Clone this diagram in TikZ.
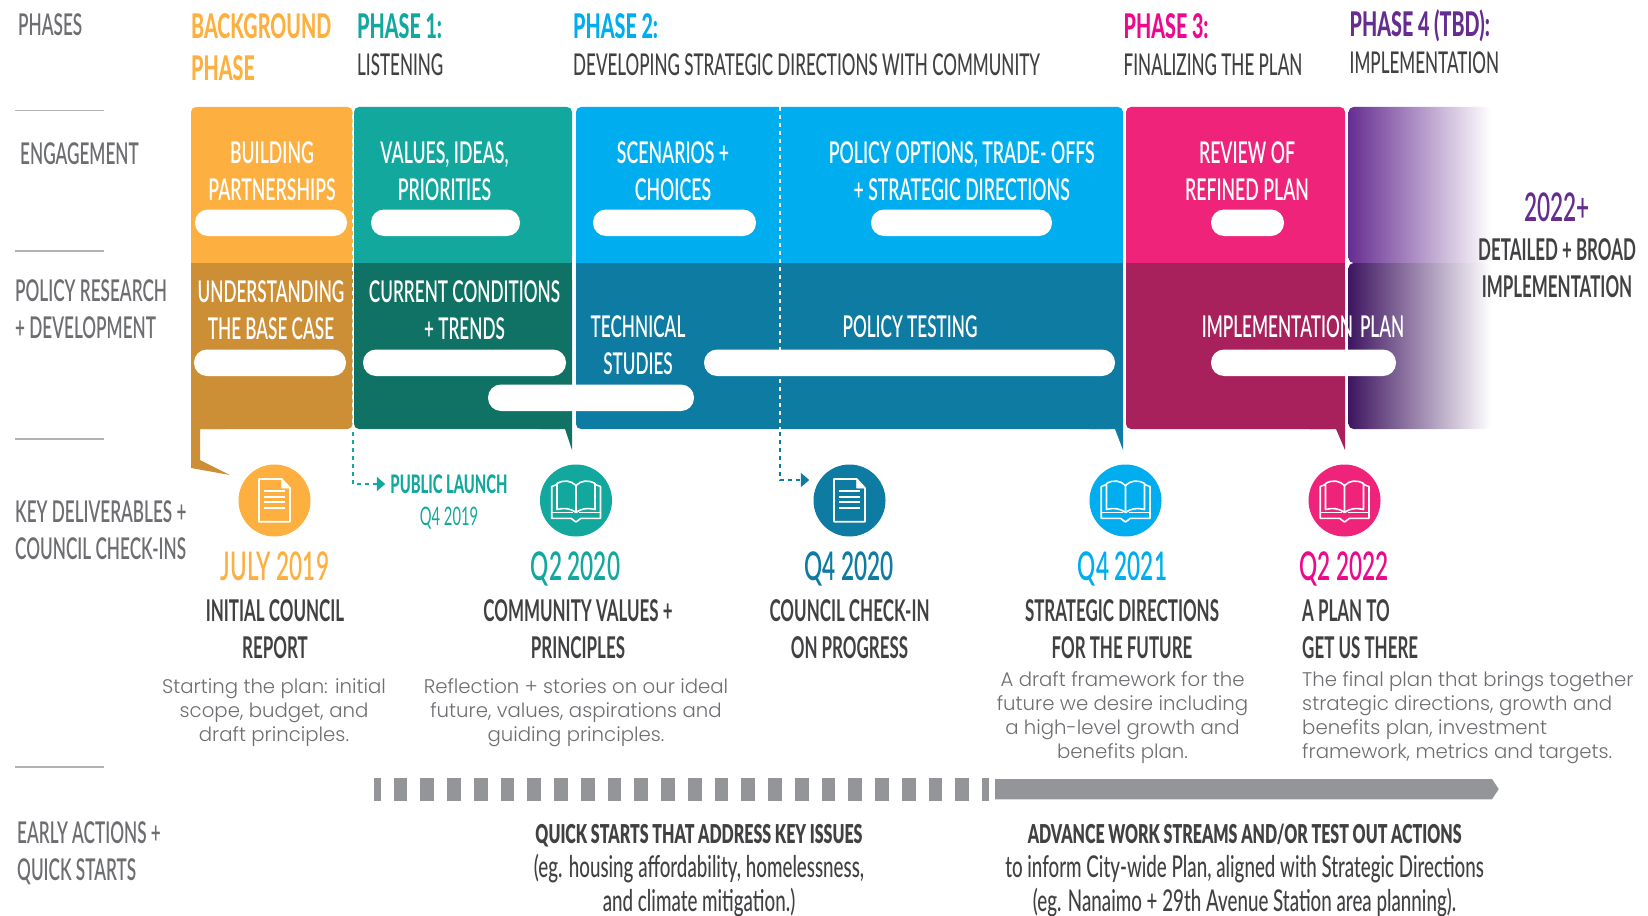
\documentclass[tikz,border=0pt]{standalone}
\usepackage{fontspec}
\usetikzlibrary{arrows.meta,calc,shadings}
\setmainfont{Lato}
\newfontfamily\condf[FakeStretch=0.572]{Lato Semibold}
\newfontfamily\condg[FakeStretch=0.59]{Lato Semibold}
\newfontfamily\condr[FakeStretch=0.568]{Lato Medium}
\newfontfamily\condl[FakeStretch=0.578]{Lato}
\newfontfamily\condt[FakeStretch=0.625]{Lato Medium}
\newfontfamily\condm[FakeStretch=0.565]{Lato Bold}
\newfontfamily\condb[FakeStretch=0.58]{Lato Heavy}
\newfontfamily\condq[FakeStretch=0.615]{Lato Black}
\newfontfamily\lightf{Poppins Light}
\definecolor{corange}{HTML}{FDB040}
\definecolor{corangeD}{HTML}{CD8F36}
\definecolor{cteal}{HTML}{13A89E}
\definecolor{ctealD}{HTML}{0F7264}
\definecolor{cblue}{HTML}{00AEEF}
\definecolor{cblueD}{HTML}{0E7BA3}
\definecolor{cpink}{HTML}{EE2379}
\definecolor{cpinkD}{HTML}{A8215C}
\definecolor{cmag}{HTML}{EC0A8C}
\definecolor{cpurple}{HTML}{662D91}
\definecolor{cpurpleD}{HTML}{3E1560}
\definecolor{cgrey}{HTML}{6D6E71}
\definecolor{cdark}{HTML}{414042}
\definecolor{cbar}{HTML}{939598}
\begin{document}
\begin{tikzpicture}[x=1pt,y=-1pt,
  cond/.style={inner sep=0pt,align=center,yshift=-1pt,font=\condf\fontsize{30}{37}\selectfont},
  lefty/.style={cond,align=left,anchor=west},
  sidelab/.style={lefty,text=cgrey},
  head/.style={lefty,font=\condb\fontsize{34}{42}\selectfont},
  sub/.style={lefty,text=cdark,font=\condr\fontsize{30}{37}\selectfont},
  inbox/.style={cond,text=white},
  intop/.style={cond,text=white,font=\condg\fontsize{30}{37}\selectfont},
  pill/.style={fill=white,rounded corners=13pt},
  date/.style={cond,anchor=base,yshift=1pt,font=\condf\fontsize{39.5}{37}\selectfont},
  ttl/.style={cond,text=cdark,font=\condm\fontsize{30}{37}\selectfont},
  qbold/.style={cond,text=cdark,font=\condq\fontsize{26}{35}\selectfont},
  qtext/.style={cond,text=cdark,font=\condt\fontsize{30}{34}\selectfont},
  body/.style={inner sep=0pt,align=center,text=cgrey,yshift=-2.5pt,font=\lightf\fontsize{19.7}{24}\selectfont},
  dot/.style={circle,minimum size=72pt,inner sep=0pt},
  seplin/.style={draw=black!30,line width=1.6pt},
  wdash/.style={white,line width=1.8pt,dash pattern=on 4pt off 4pt},
  tdash/.style={line width=2.2pt,dash pattern=on 4pt off 4pt},
  icn/.style={white,line width=1.6pt,line join=round}
]
\useasboundingbox (0,0) rectangle (1648,915);
% separators
\foreach \yy in {110.7,251,439,767}{\draw[seplin] (15,\yy) -- (104,\yy);}
% boxes
\fill[corange,rounded corners=5pt] (191,263) -- (191,107) -- (352.6,107) -- (352.6,263) -- cycle;
\fill[corange] (191,200) rectangle (352.6,263);
\fill[corangeD] (191,263) rectangle (352.6,300);
\fill[corangeD,rounded corners=5pt] (200,429) -- (352.6,429) -- (352.6,263) -- (191,263) -- (191,429);
\fill[corangeD] (191,280) -- (191,468) -- (230,475) -- (200,460) -- (200,429) -- (225,429) -- (225,280) -- cycle;
\fill[cteal,rounded corners=5pt] (354,263) -- (354,107) -- (572,107) -- (572,263) -- cycle;
\fill[cteal] (354,200) rectangle (572,263);
\fill[ctealD,rounded corners=5pt] (354,263) -- (354,429) -- (565,429) -- (565,263) -- cycle;
\fill[ctealD] (354,263) rectangle (572,300);
\fill[ctealD] (540,280) -- (572,280) -- (572,450) -- (565,429) -- (540,429) -- cycle;
\fill[cblue,rounded corners=5pt] (576,263) -- (576,107) -- (1123,107) -- (1123,263) -- cycle;
\fill[cblue] (576,200) rectangle (1123,263);
\fill[cblueD,rounded corners=5pt] (576,263) -- (576,429) -- (1115,429) -- (1115,263) -- cycle;
\fill[cblueD] (576,263) rectangle (1123,300);
\fill[cblueD] (1090,280) -- (1123,280) -- (1123,450) -- (1115,429) -- (1090,429) -- cycle;
\fill[cpink,rounded corners=5pt] (1126,263) -- (1126,107) -- (1345,107) -- (1345,263) -- cycle;
\fill[cpink] (1126,200) rectangle (1345,263);
\fill[cpinkD,rounded corners=5pt] (1126,263) -- (1126,429) -- (1336,429) -- (1336,263) -- cycle;
\fill[cpinkD] (1126,263) rectangle (1345,300);
\fill[cpinkD] (1310,280) -- (1345,280) -- (1345,450) -- (1336,429) -- (1310,429) -- cycle;
\shade[left color=cpurple,right color=white,rounded corners=5pt] (1348.5,263) -- (1348.5,107) -- (1491,107) -- (1491,263) -- cycle;
\shade[left color=cpurpleD,right color=white,rounded corners=5pt] (1348.5,263) -- (1348.5,429) -- (1491,429) -- (1491,263) -- cycle;
% head labels
\node[sidelab] (lphases) at (18,24) {PHASES};
\node[sidelab] (lengage) at (20,153) {ENGAGEMENT};
\node[sidelab] (lpolicy) at (15,308) {POLICY RESEARCH\\+ DEVELOPMENT};
\node[sidelab] (lkey) at (15,529.5) {KEY DELIVERABLES +\\COUNCIL CHECK-INS};
\node[sidelab] (learly) at (17,852) {EARLY ACTIONS +\\QUICK STARTS};
\node[head,text=corange] (hback) at (191,46) {BACKGROUND\\PHASE};
\node[head,text=cteal] (h1) at (357,25) {PHASE 1:};
\node[sub] (s1) at (357,64) {LISTENING};
\node[head,text=cblue] (h2) at (573,25) {PHASE 2:};
\node[sub] (s2) at (573,64) {DEVELOPING STRATEGIC DIRECTIONS WITH COMMUNITY};
\node[head,text=cmag] (h3) at (1123.5,25) {PHASE 3:};
\node[sub] (s3) at (1123.5,64) {FINALIZING THE PLAN};
\node[head,text=cpurple] (h4) at (1349.5,25) {PHASE 4 (TBD):};
\node[sub] (s4) at (1349.5,62) {IMPLEMENTATION};
% box labels
\node[intop] (b1) at (272,170) {BUILDING\\PARTNERSHIPS};
\node[intop] (b2) at (444.5,170) {VALUES, IDEAS,\\PRIORITIES};
\node[intop] (b3) at (673,170) {SCENARIOS +\\CHOICES};
\node[intop] (b4) at (961.7,170) {POLICY OPTIONS, TRADE- OFFS\\+ STRATEGIC DIRECTIONS};
\node[intop] (b5) at (1247,170) {REVIEW OF\\REFINED PLAN};
\node[inbox] (c1) at (271,309.5) {UNDERSTANDING\\THE BASE CASE};
\node[inbox] (c2) at (464.5,309.5) {CURRENT CONDITIONS\\+ TRENDS};
\node[inbox] (c3) at (638,344) {TECHNICAL\\STUDIES};
\node[inbox] (c4) at (910,326) {POLICY TESTING};
\node[inbox] (c5) at (1303,326) {IMPLEMENTATION\hspace{7pt}PLAN};
\draw[white,line width=2.5pt] (1346.7,311) -- (1346.7,342);
% dashed
\coordinate (dA) at (353,107);
\coordinate (dAb) at (353,432);
\coordinate (dB) at (780,107);
\coordinate (dBb) at (780,432);
\draw[wdash] (dA) -- (dAb);
\draw[wdash] (dB) -- (dBb);
% pills
\fill[pill] (195,209.5) rectangle (347,236);
\fill[pill] (371,209.5) rectangle (520,236);
\fill[pill] (593,209.5) rectangle (756,236);
\fill[pill] (871,209.5) rectangle (1052,236);
\fill[pill] (1211,209.5) rectangle (1284,236);
\fill[pill] (194,349.5) rectangle (346,376);
\fill[pill] (363,349.5) rectangle (566,376);
\fill[pill] (704,349.5) rectangle (1115,376);
\fill[pill] (1211,349.5) rectangle (1396,376);
\fill[pill] (488,384.5) rectangle (694,411);
% circles
\node[dot,fill=corange] (n1) at (274.5,500.5) {};
\node[dot,fill=cteal] (n2) at (576,500.5) {};
\node[dot,fill=cblueD] (n3) at (849.5,500.5) {};
\node[dot,fill=cblue] (n4) at (1125.5,500.5) {};
\node[dot,fill=cpink] (n5) at (1344.5,500.5) {};
% arrows to labels
\node[cond,text=cteal,font=\condb\fontsize{25.5}{33}\selectfont] (pl) at (449,483) {PUBLIC LAUNCH};
\node[cond,text=cteal,font=\condl\fontsize{25.5}{33}\selectfont] (plq) at (449,517) {Q4 2019};
\draw[cteal,tdash,-{Triangle[length=8.5pt,width=14pt]},shorten >=5pt] (dAb) |- (pl.west);
\draw[cblueD,tdash,-{Triangle[length=8.5pt,width=14pt]},shorten >=4pt] (dBb) |- (n3.west |- 0,480);
% icons
\newcommand{\docicon}[1]{\begin{scope}[shift={(#1)}]
 \draw[icn] (-15.5,-21.5) -- (7.2,-21.5) -- (15.5,-12.5) -- (15.5,21.2) -- (-15.5,21.2) -- cycle;
 \filldraw[icn,fill=white,line width=.8pt] (7.2,-21.5) -- (7.2,-12.5) -- (15.5,-12.5) -- cycle;
 \foreach \yy in {-9.5,-3.8,1.8,7.2}{\draw[icn,line width=1.7pt] (-10.5,\yy) -- (10.5,\yy);}
\end{scope}}
\newcommand{\bookicon}[1]{\begin{scope}[shift={(#1)}]
 \draw[icn] (0,12) .. controls (-5,8) and (-12,7) .. (-19,9) -- (-19,-17) .. controls (-12,-21) and (-5,-20) .. (0,-15) -- cycle;
 \draw[icn] (0,12) .. controls (5,8) and (12,7) .. (19,9) -- (19,-17) .. controls (12,-21) and (5,-20) .. (0,-15);
 \draw[icn] (-19,-16) -- (-24.3,-14) -- (-24.3,17.8) -- (-5,17.8) -- (0,21.5) -- (5,17.8) -- (24.5,17.8) -- (24.5,-14) -- (19,-16);
 \draw[icn] (-24.3,12) -- (-3,12) (3,12) -- (24.5,12);
\end{scope}}
\docicon{n1.center}
\bookicon{n2.center}
\docicon{n3.center}
\bookicon{n4.center}
\bookicon{n5.center}
% dates
\node[date,text=corange] (d1) at (275,580.5) {JULY 2019};
\node[date,text=cteal] (d2) at (575.5,580.5) {Q2 2020};
\node[date,text=cblueD] (d3) at (849,580.5) {Q4 2020};
\node[date,text=cblue] (d4) at (1122.5,580.5) {Q4 2021};
\node[date,text=cmag] (d5) at (1344,580.5) {Q2 2022};
% titles
\node[ttl] (t1) at (275,628.5) {INITIAL COUNCIL\\REPORT};
\node[ttl] (t2) at (578,628.5) {COMMUNITY VALUES +\\PRINCIPLES};
\node[ttl] (t3) at (849.5,628.5) {COUNCIL CHECK-IN\\ON PROGRESS};
\node[ttl] (t4) at (1122,628.5) {STRATEGIC DIRECTIONS\\FOR THE FUTURE};
\node[ttl,align=left,anchor=west] (t5) at (1302,628.5) {A PLAN TO\\GET US THERE};
% body
\node[body] (p1) at (274,710) {Starting the plan: initial\\scope, budget, and\\draft principles.};
\node[body] (p2) at (576,710) {Reflection + stories on our ideal\\future, values, aspirations and\\guiding principles.};
\node[body] (p4) at (1122.5,715) {A draft framework for the\\future we desire including\\a high-level growth and\\benefits plan.};
\node[body,align=left,anchor=west] (p5) at (1302,715) {The final plan that brings together\\strategic directions, growth and\\benefits plan, investment\\framework, metrics and targets.};
% bar
\fill[cbar] (373.6,778) rectangle (380.5,800.7);
\foreach \i in {0,...,21}{\fill[cbar] ({393.6+26.75*\i},778) rectangle ({407.3+26.75*\i},800.7);}
\fill[cbar] (982,778) rectangle (989,800.7);
\fill[cbar] (995,779) -- (1492,779) -- (1498.7,789) -- (1492,799.3) -- (995,799.3) -- cycle;
% bottom text
\node[qbold] (q1) at (699,835) {QUICK STARTS THAT ADDRESS KEY ISSUES};
\node[qtext] (q2) at (699,884.5) {(eg. housing affordability, homelessness,\\and climate mitigation.)};
\node[qbold] (r1) at (1244.7,833) {ADVANCE WORK STREAMS AND/OR TEST OUT ACTIONS};
\node[qtext] (r2) at (1244.5,885) {to inform City-wide Plan, aligned with Strategic Directions\\(eg. Nanaimo + 29th Avenue Station area planning).};
% 2022+
\node[date,text=cpurple,anchor=center] (y22) at (1557,207) {2022+};
\node[ttl] (y22b) at (1557,267) {DETAILED + BROAD\\IMPLEMENTATION};
\end{tikzpicture}
\end{document}
